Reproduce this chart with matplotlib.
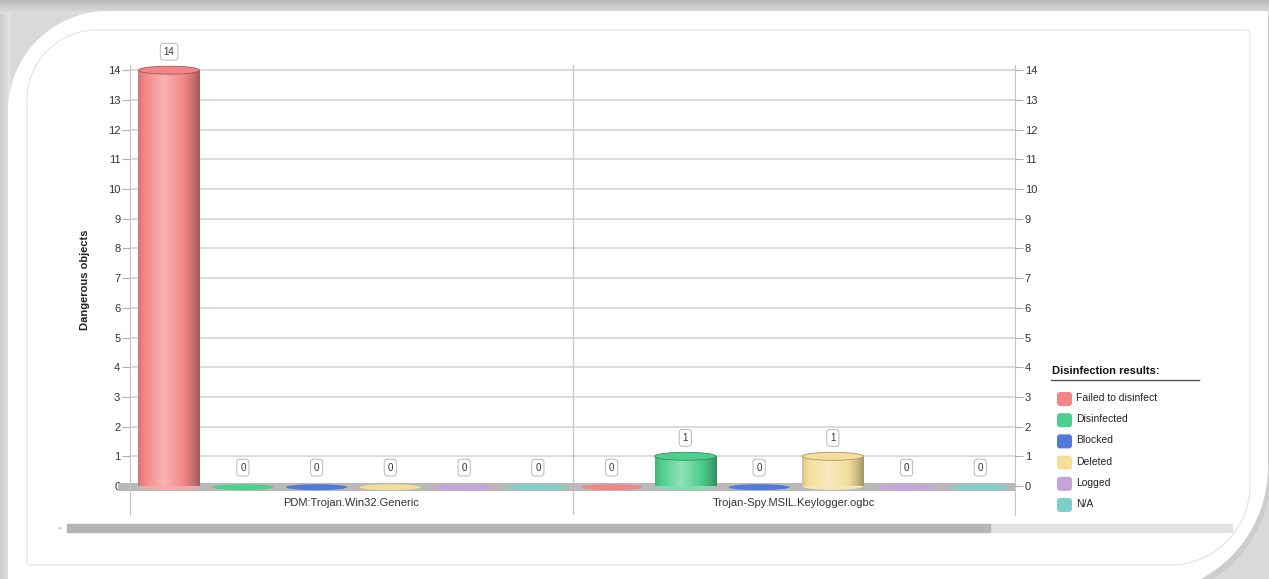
import numpy as np
import matplotlib
matplotlib.use("Agg")
import matplotlib.pyplot as plt
from matplotlib.patches import FancyBboxPatch, Ellipse, Rectangle, Polygon
import matplotlib.colors as mcolors

plt.rcParams["font.family"] = ["Liberation Sans", "DejaVu Sans"]

# data
threats = ["PDM:Trojan.Win32.Generic", "Trojan-Spy.MSIL.Keylogger.ogbc"]
results = ["Failed to disinfect", "Disinfected", "Blocked", "Deleted", "Logged", "N/A"]
counts = [
    [14, 0, 0, 0, 0, 0],
    [0, 1, 0, 1, 0, 0],
]
colors = ["#f28686", "#4dcf8d", "#5079d9", "#f4de9a", "#c6a3da", "#7dd0ca"]
yticks = list(range(0, 15))

W, H = 1269, 579
fig = plt.figure(figsize=(W / 100, H / 100), dpi=100)


def card_outline(x0, y0, x1, y1, r_tl, r_tr, r_br, r_bl):
    # rounded rectangle with its own radius per corner, pixel coords (y down)
    pts = []
    corners = [((x0 + r_tl, y0 + r_tl), r_tl, 180, 270),
               ((x1 - r_tr, y0 + r_tr), r_tr, 270, 360),
               ((x1 - r_br, y1 - r_br), r_br, 0, 90),
               ((x0 + r_bl, y1 - r_bl), r_bl, 90, 180)]
    for (cx, cy), r, a0, a1 in corners:
        a = np.radians(np.linspace(a0, a1, 40))
        pts += list(zip(cx + r * np.cos(a), cy + r * np.sin(a)))
    return pts


# background card (pixel coords)
bg = fig.add_axes([0, 0, 1, 1])
bg.set_xlim(0, W)
bg.set_ylim(H, 0)
bg.axis("off")
bg.add_patch(Rectangle((0, 0), W, H, color="#d9d9d9", zorder=0))
grad = np.linspace(0.72, 0.88, 20).reshape(-1, 1)
bg.imshow(np.dstack([grad] * 3), extent=[0, W, 14, 0], aspect="auto", zorder=0.5)
gradx = np.linspace(0.80, 0.90, 20).reshape(1, -1)
bg.imshow(np.dstack([gradx] * 3), extent=[0, 10, H, 14], aspect="auto", zorder=0.5)
bg.set_xlim(0, W)
bg.set_ylim(H, 0)
bg.add_patch(Polygon(card_outline(12, 15, 1272, 600, 100, 2, 130, 2), closed=True,
                     fc="#cdcdcd", ec="none", zorder=1))
bg.add_patch(Polygon(card_outline(8, 11, 1268, 594, 100, 2, 127, 2), closed=True,
                     fc="white", ec="none", zorder=2))
bg.add_patch(Polygon(card_outline(27, 30, 1250, 565, 70, 4, 80, 4), closed=True,
                     fc="none", ec="#e2e2e2", lw=0.8, zorder=3))
# scrollbar
bg.add_patch(Rectangle((990, 524), 242, 8, color="#e2e2e2", zorder=3))
bg.add_patch(Rectangle((67, 524), 923, 8, color="#b5b5b5", zorder=3))
bg.text(60, 528, "◂", fontsize=5, color="#c8c8c8", ha="center", va="center", zorder=3,
        family="DejaVu Sans")

# main plot
ax = fig.add_axes([130 / W, 1 - 515 / H, 885 / W, 450 / H])
ax.set_facecolor("none")
n = len(results)


def shade(base, t):
    rgb = np.array(mcolors.to_rgb(base))
    k = np.interp(t, [0, 0.1, 0.42, 0.7, 0.88, 1], [-0.12, 0.0, 0.38, 0.05, -0.15, -0.32])
    out = np.empty((1, len(t), 3))
    for i, kk in enumerate(k):
        out[0, i] = rgb + (1 - rgb) * kk if kk > 0 else rgb * (1 + kk)
    return np.clip(out, 0, 1)


bw = 0.83
off = 0.53
t = np.linspace(0, 1, 80)
for g, vals in enumerate(counts):
    for i, v in enumerate(vals):
        x = g * n + i + off
        if v > 0:
            ax.imshow(shade(colors[i], t), extent=[x - bw / 2, x + bw / 2, 0, v],
                      aspect="auto", zorder=3, interpolation="bilinear")
            ax.add_patch(Ellipse((x, 0), bw, 0.27, fc=shade(colors[i], np.array([0.5]))[0, 0],
                                 ec="none", zorder=2.9))
            ax.add_patch(Ellipse((x, v), bw, 0.27, fc=colors[i], ec=shade(colors[i], np.array([1.0]))[0, 0],
                                 lw=0.6, zorder=3.1))
        else:
            ax.add_patch(Ellipse((x, -0.04), bw, 0.2, fc=colors[i], ec="none", zorder=2.5))
        ax.text(x, v + 0.62, str(v), ha="center", va="center", fontsize=7, color="#333333",
                zorder=4, bbox=dict(boxstyle="round,pad=0.35", fc="white", ec="#b8b8b8", lw=0.7))
    ax.text(g * n + n / 2, -0.57, threats[g], ha="center", va="center", fontsize=8,
            color="#333333")

ax.set_xlim(0, n * len(threats))
ax.set_ylim(-0.976, 14.175)

# floor
ax.add_patch(Rectangle((-0.16, -0.17), n * len(threats) + 0.16, 0.27, fc="#b9b9b9", ec="none",
                       zorder=2, clip_on=False))

for yv in yticks[1:]:
    ax.axhline(yv, color="#d4d4d4", lw=1.2, zorder=1)
ax.axvline(n, color="#c8c8c8", lw=1, zorder=1)

for s in ["top", "bottom"]:
    ax.spines[s].set_visible(False)
for s in ["left", "right"]:
    ax.spines[s].set_color("#c4c4c4")
ax.set_xticks([])
ax.set_yticks(yticks)
ax.tick_params(axis="y", length=6, color="#b0b0b0", labelsize=8, labelcolor="#333333", pad=1)

ax2 = ax.twinx()
ax2.set_ylim(ax.get_ylim())
ax2.set_yticks(yticks)
ax2.tick_params(axis="y", length=6, color="#b0b0b0", labelsize=8, labelcolor="#333333", pad=1)
for s in ["top", "bottom", "left", "right"]:
    ax2.spines[s].set_visible(False)

fig.text(85 / W, 1 - 280 / H, "Dangerous objects", rotation=90, ha="center", va="center",
         fontsize=8, fontweight="bold", color="#222222")

# legend
bg.text(1052, 371, "Disinfection results:", fontsize=8, fontweight="bold", color="#111111",
        ha="left", va="center", zorder=5)
bg.plot([1051, 1199], [380, 380], color="#555555", lw=1, zorder=5)
for i, (lab, c) in enumerate(zip(results, colors)):
    yy = 399 + i * 21.2
    bg.add_patch(FancyBboxPatch((1057, yy - 7), 15, 14, boxstyle="round,pad=0,rounding_size=3",
                                fc=c, ec="none", zorder=5))
    bg.text(1076, yy - 1, lab, fontsize=7.5, color="#222222", ha="left", va="center", zorder=5)

fig.savefig("out.png", dpi=100)
